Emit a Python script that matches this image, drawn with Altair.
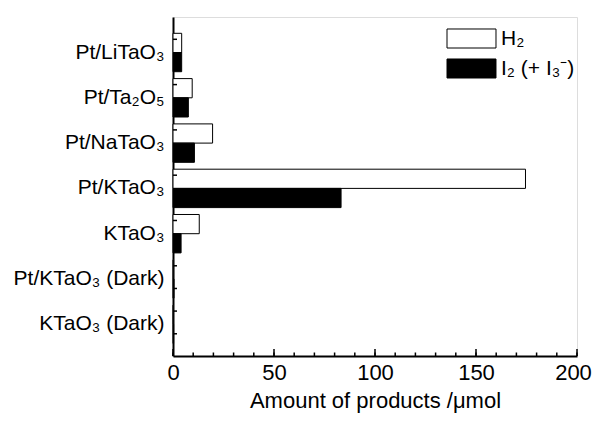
import altair as alt
import pandas as pd

categories = ["Pt/LiTaO₃", "Pt/Ta₂O₅", "Pt/NaTaO₃", "Pt/KTaO₃", "KTaO₃",
              "Pt/KTaO₃ (Dark)", "KTaO₃ (Dark)"]
series = ["H₂", "I₂ (+ I₃⁻)"]
h2_values = [4.3, 9.5, 19.6, 174.5, 13.0, 0.3, 0.2]
i2_values = [4.3, 7.6, 10.6, 83.2, 4.0, 0.5, 0.3]
x_tick_values = list(range(0, 201, 10))
x_major_values = [0, 50, 100, 150, 200]

rows = []
for c, h, i in zip(categories, h2_values, i2_values):
    rows.append({"cat": c, "series": series[0], "value": h})
    rows.append({"cat": c, "series": series[1], "value": i})
df = pd.DataFrame(rows)
cat_df = pd.DataFrame({"cat": categories})
minor_df = pd.DataFrame({"v": x_tick_values})
major_df = pd.DataFrame({"v": x_major_values})

FONT = "Liberation Sans"
W, H = 404, 339

yscale = alt.Scale(domain=categories, paddingInner=0.152, paddingOuter=0.318, align=0.566)
xscale = alt.Scale(domain=[0, 200], nice=False, zero=True)

bars = alt.Chart(df).mark_bar(stroke="black", strokeWidth=1).encode(
    y=alt.Y("cat:N", sort=categories, scale=yscale,
            axis=alt.Axis(title=None, ticks=False, labelFontSize=21, labelFont=FONT,
                          labelColor="black", labelPadding=9, domainColor="black",
                          domainWidth=2, labelLimit=300)),
    yOffset=alt.YOffset("series:N", sort=series, scale=alt.Scale(paddingInner=0, paddingOuter=0)),
    x=alt.X("value:Q", scale=xscale,
            axis=alt.Axis(title="Amount of products /μmol", values=x_major_values, ticks=False,
                          labelFontSize=22, labelFont=FONT, labelColor="black", labelPadding=6,
                          labelOffset=alt.condition("datum.value == 200", alt.value(-4), alt.value(0)),
                          titleFontSize=22, titleFont=FONT, titleFontWeight="normal",
                          titleColor="black", titlePadding=7, domainColor="black",
                          domainWidth=2, grid=False, labelFlush=False)),
    color=alt.Color("series:N", sort=series,
                    scale=alt.Scale(domain=series, range=["white", "black"]),
                    legend=alt.Legend(title=None, orient="none", legendX=288, legendY=11,
                                      symbolType="M-2.5,-0.97L2.5,-0.97L2.5,0.97L-2.5,0.97Z",
                                      symbolSize=384, symbolStrokeColor="black",
                                      symbolStrokeWidth=1, labelFontSize=21, labelFont=FONT,
                                      labelColor="black", labelOffset=19, rowPadding=5,
                                      symbolOpacity=1)),
)

ytick1 = alt.Chart(cat_df).mark_rule(color="black", strokeWidth=1.5).encode(
    y=alt.Y("cat:N", sort=categories, scale=yscale, bandPosition=0.156),
    x=alt.value(0), x2=alt.value(4),
)
ytick2 = alt.Chart(cat_df).mark_rule(color="black", strokeWidth=1.5).encode(
    y=alt.Y("cat:N", sort=categories, scale=yscale, bandPosition=0.747),
    x=alt.value(0), x2=alt.value(4),
)
xminor = alt.Chart(minor_df).mark_rule(color="black", strokeWidth=1.5).encode(
    x=alt.X("v:Q", scale=xscale), y=alt.value(H), y2=alt.value(H - 3.5),
)
xmajor = alt.Chart(major_df).mark_rule(color="black", strokeWidth=1.5).encode(
    x=alt.X("v:Q", scale=xscale), y=alt.value(H), y2=alt.value(H - 7),
)

chart = alt.layer(bars, ytick1, ytick2, xminor, xmajor).properties(
    width=W, height=H,
    autosize=alt.AutoSizeParams(type="none"),
    padding={"left": 165, "top": 9, "right": 16, "bottom": 61},
).configure_view(stroke=None).configure(background="white")

chart.save("out.html", embed_options={"renderer": "svg", "actions": False})
